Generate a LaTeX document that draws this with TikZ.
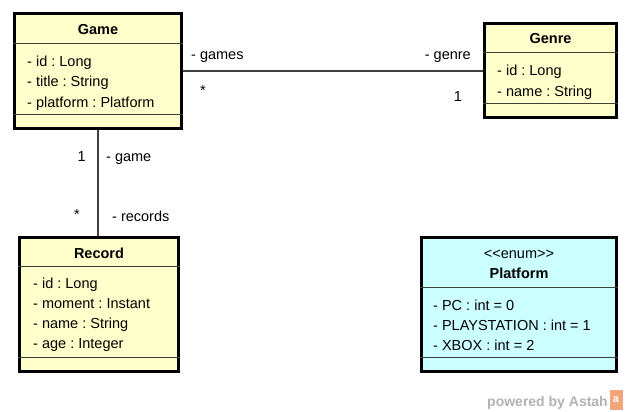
\documentclass[tikz,border=0pt]{standalone}
\usepackage{fontspec}
\setmainfont{Liberation Sans}
\frenchspacing

\definecolor{classfill}{HTML}{FFFFCC}
\definecolor{enumfill}{HTML}{CCFFFF}
\definecolor{sepline}{HTML}{3C4438}
\definecolor{astahorange}{HTML}{F2A47A}

\begin{document}
\begin{tikzpicture}[x=1pt,y=-1pt,
	umlclass/.style={draw=black,line width=3pt,inner sep=0pt,fill=classfill},
	umlenum/.style={umlclass,fill=enumfill},
	title/.style={font=\fontsize{14.5}{16}\selectfont\bfseries,inner sep=0pt},
	attr/.style={font=\fontsize{14.5}{16}\selectfont,inner sep=0pt,anchor=base west},
	role/.style={font=\fontsize{14.5}{16}\selectfont,inner sep=0pt},
	assoc/.style={draw=black!75,line width=1.2pt},
	sep/.style={draw=sepline,line width=1pt}]
		\useasboundingbox (0,0) rectangle (630,412);
		% classes
		\node[umlclass,minimum width=167,minimum height=115] (game) at (98,71) {};
		\node[umlclass,minimum width=132,minimum height=94] (genre) at (550.5,70.5) {};
		\node[umlclass,minimum width=159,minimum height=134] (record) at (99,304.5) {};
		\node[umlenum,minimum width=195,minimum height=134] (platform) at (519,304.5) {};
		% titles
		\node[title] (gameT) at (98,30) {Game};
		\node[title] (genreT) at (550.5,39) {Genre};
		\node[title] (recordT) at (99,253) {Record};
		\node[role] (platformS) at (519,254) {{<}{<}enum{>}{>}};
		\node[title] (platformT) at (519,273) {Platform};
		% compartments
		\draw[sep] (game.west |- 0,43.5) -- (game.east |- 0,43.5);
		\draw[sep] (game.west |- 0,115) -- (game.east |- 0,115);
		\draw[sep] (genre.west |- 0,53) -- (genre.east |- 0,53);
		\draw[sep] (genre.west |- 0,104) -- (genre.east |- 0,104);
		\draw[sep] (record.west |- 0,266) -- (record.east |- 0,266);
		\draw[sep] (record.west |- 0,357) -- (record.east |- 0,357);
		\draw[sep] (platform.west |- 0,287) -- (platform.east |- 0,287);
		\draw[sep] (platform.west |- 0,357) -- (platform.east |- 0,357);
		% attributes
		\foreach \t [count=\i] in {- id : Long,- title : String,- platform : Platform}
			\node[attr] (gameA\i) at (27,67+20*\i-20) {\t};
		\foreach \t [count=\i] in {- id : Long,- name : String}
			\node[attr] (genreA\i) at (497,76+20*\i-20) {\t};
		\foreach \t [count=\i] in {- id : Long,- moment : Instant,- name : String,- age : Integer}
			\node[attr] (recordA\i) at (33,288+20*\i-20) {\t};
		\foreach \t [count=\i] in {- PC : int = 0,- PLAYSTATION : int = 1,- XBOX : int = 2}
			\node[attr] (platformA\i) at (433,310+20*\i-20) {\t};
		% associations
		\draw[assoc] (game.east) -- (game.east -| genre.west);
		\draw[assoc] (game.south) -- (game.south |- record.north);
		\node[role,anchor=base west] (gamesR) at (191,60) {- games};
		\node[role] (gamesM) at (203,91) {*};
		\node[role,anchor=base east] (genreR) at (471,60) {- genre};
		\node[role,anchor=base] (genreM) at (458,101.5) {1};
		\node[role,anchor=base east] (gameM) at (86,161) {1};
		\node[role,anchor=base west] (gameR) at (106,161) {- game};
		\node[role] (recordsM) at (77,215) {*};
		\node[role,anchor=base west] (recordsR) at (112,221) {- records};
		% watermark
		\node[font=\fontsize{14}{15}\selectfont\bfseries,text=black!30,inner sep=0pt,anchor=base east] (brand) at (608,406) {powered by Astah};
		\node[fill=astahorange,minimum width=13,minimum height=20,inner sep=0pt,font=\fontsize{11}{11}\selectfont\bfseries,text=white] (logo) at (616,400) {a};
\end{tikzpicture}
\end{document}
